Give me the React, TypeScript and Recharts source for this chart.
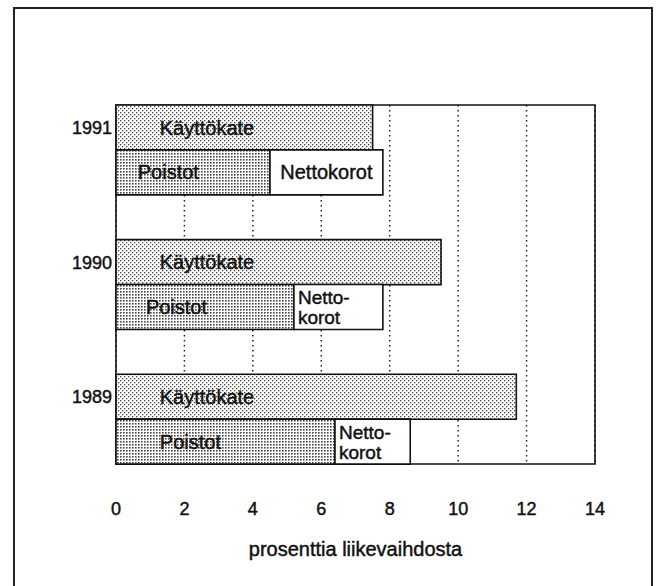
import React from "react";
import { BarChart, Bar, XAxis, YAxis, CartesianGrid, ReferenceArea, LabelList, Label } from "recharts";

const years = ["1991", "1990", "1989"];
const kayttokate = [7.5, 9.5, 11.7];
const poistot = [4.5, 5.2, 6.4];
const nettokorot = [3.3, 2.6, 2.2];
const xTicks = [0, 2, 4, 6, 8, 10, 12, 14];

const FONT = "'Liberation Sans', Arial, Helvetica, sans-serif";
// scanned print looks a bit heavier than regular weight
const ink = { fill: "#111", stroke: "#111", strokeWidth: 0.45, fontFamily: FONT };

type Row = { row: string; year?: string; k?: number; p?: number; n?: number };

const rows: Row[] = [];
years.forEach((year, i) => {
  rows.push({ row: `${year}-k`, year, k: kayttokate[i] });
  rows.push({ row: `${year}-p`, year, p: poistot[i], n: nettokorot[i] });
  if (i < years.length - 1) rows.push({ row: `gap-${i}` });
});

const YearTick = (props: any) => {
  const { x, y, payload } = props;
  const v: string = payload?.value ?? "";
  if (!v.endsWith("-k")) return null;
  return (
    <text x={x - 4} y={y + 6.5} textAnchor="end" fontSize={18} {...ink}>
      {v.slice(0, 4)}
    </text>
  );
};

const XTick = (props: any) => {
  const { x, y, payload } = props;
  return (
    <text x={x} y={y + 51} textAnchor="middle" fontSize={18} {...ink}>
      {payload.value}
    </text>
  );
};

const kLabel = (props: any) => {
  const { x, y, height, value } = props;
  if (value == null) return null;
  return (
    <text x={x + 91} y={y + height / 2 + 7} textAnchor="middle" fontSize={20} {...ink}>
      Käyttökate
    </text>
  );
};

const pLabel = (props: any) => {
  const { x, y, width, height, value } = props;
  if (value == null) return null;
  return (
    <text x={x + width * 0.34} y={y + height / 2 + 7} textAnchor="middle" fontSize={20} {...ink}>
      Poistot
    </text>
  );
};

const nLabel = (props: any) => {
  const { x, y, width, height, value } = props;
  if (value == null) return null;
  const cy = y + height / 2;
  if (width > 100) {
    return (
      <text x={x + width / 2} y={cy + 7} textAnchor="middle" fontSize={20} {...ink}>
        Nettokorot
      </text>
    );
  }
  return (
    <g>
      <text x={x + 4} y={cy - 3} fontSize={19} {...ink}>
        Netto-
      </text>
      <text x={x + 4} y={cy + 17} fontSize={19} {...ink}>
        korot
      </text>
    </g>
  );
};

export default function App() {
  return (
    <div style={{ position: "absolute", left: 0, top: 0, width: 664, height: 586, overflow: "hidden", background: "#fff" }}>
      <div
        style={{
          position: "absolute",
          left: 13,
          top: 7,
          width: 640,
          height: 600,
          border: "2px solid #222",
          boxSizing: "border-box",
        }}
      />
      <BarChart
        width={664}
        height={586}
        layout="vertical"
        data={rows}
        margin={{ top: 105, right: 69, left: 56, bottom: 32 }}
        barCategoryGap={0}
        barGap={0}
        style={{ position: "absolute", left: 0, top: 0 }}
      >
        <defs>
          <pattern id="lightDots" width="4" height="4" patternUnits="userSpaceOnUse">
            <rect width="4" height="4" fill="#fff" />
            <rect x="0" y="0" width="1.3" height="1.3" fill="#444" />
            <rect x="2" y="2" width="1.3" height="1.3" fill="#444" />
          </pattern>
          <pattern id="darkDots" width="3" height="3" patternUnits="userSpaceOnUse">
            <rect width="3" height="3" fill="#fff" />
            <rect x="0" y="0" width="1.6" height="1.6" fill="#444" />
          </pattern>
        </defs>
        <CartesianGrid horizontal={false} stroke="#222" strokeWidth={1.5} strokeDasharray="1.5 3.5" />
        <XAxis
          type="number"
          domain={[0, 14]}
          ticks={xTicks}
          interval={0}
          axisLine={false}
          tickLine={false}
          tickSize={0}
          tickMargin={0}
          height={90}
          tick={<XTick />}
        >
          <Label
            content={(p: any) => {
              const vb = p.viewBox;
              return (
                <text x={vb.x + vb.width / 2} y={vb.y + 92} textAnchor="middle" fontSize={20} {...ink}>
                  prosenttia liikevaihdosta
                </text>
              );
            }}
          />
        </XAxis>
        <YAxis
          type="category"
          dataKey="row"
          width={60}
          interval={0}
          axisLine={false}
          tickLine={false}
          tickSize={0}
          tickMargin={0}
          tick={<YearTick />}
        />
        <Bar dataKey="k" stackId="s" fill="url(#lightDots)" stroke="#111" strokeWidth={1.6} isAnimationActive={false}>
          <LabelList dataKey="k" content={kLabel} />
        </Bar>
        <Bar dataKey="p" stackId="s" fill="url(#darkDots)" stroke="#111" strokeWidth={1.6} isAnimationActive={false}>
          <LabelList dataKey="p" content={pLabel} />
        </Bar>
        <Bar dataKey="n" stackId="s" fill="#fff" stroke="#111" strokeWidth={1.6} isAnimationActive={false}>
          <LabelList dataKey="n" content={nLabel} />
        </Bar>
        <ReferenceArea x1={0} x2={14} fill="none" stroke="#111" strokeWidth={1.6} ifOverflow="visible" />
      </BarChart>
    </div>
  );
}
